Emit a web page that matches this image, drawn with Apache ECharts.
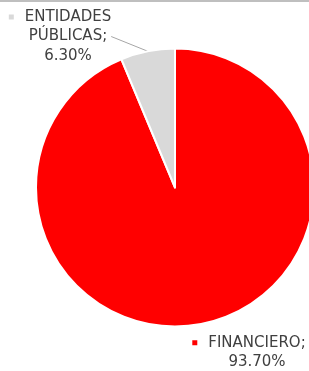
<!DOCTYPE html>
<html>
<head>
<meta charset="utf-8">
<script src="https://cdn.jsdelivr.net/npm/echarts@6/dist/echarts.min.js"></script>
<style>
  html, body { margin: 0; padding: 0; background: #fff; }
  #chart { width: 309px; height: 371px; }
</style>
</head>
<body>
<div id="chart"></div>
<script>
// sectores y su participación (%)
var sectorNames = ['FINANCIERO', 'ENTIDADES PÚBLICAS'];
var sectorLabels = ['FINANCIERO;', 'ENTIDADES\nPÚBLICAS;'];
var sectorValues = [93.70, 6.30];
var sectorColors = ['#ff0000', '#d9d9d9'];

var myChart = echarts.init(document.getElementById('chart'));

var pieData = sectorNames.map(function (name, i) {
    return {
        name: name,
        value: sectorValues[i],
        itemStyle: { color: sectorColors[i] },
        labelLine: { show: i === 1 }
    };
});

var option = {
    animation: false,
    graphic: [{
        type: 'rect',
        shape: { x: 0, y: 0, width: 309, height: 2 },
        style: { fill: '#bfbfbf' }
    }],
    series: [{
        type: 'pie',
        center: [175, 187.5],
        radius: [0, 139],
        startAngle: 90,
        clockwise: true,
        itemStyle: { borderColor: '#fff', borderWidth: 2 },
        data: pieData,
        label: {
            show: true,
            position: 'outside',
            overflow: 'none',
            color: '#404040',
            fontFamily: 'DejaVu Sans',
            fontSize: 15,
            lineHeight: 19.5,
            align: 'center',
            formatter: function (p) {
                var lines = sectorLabels[p.dataIndex].split('\n');
                lines.push(p.value.toFixed(2) + '%');
                var mk = p.dataIndex === 0 ? 'm0' : 'm1';
                return lines.map(function (l, k) {
                    return (k === 0 ? '{' + mk + '| }{g| }' : '{s| }') + '{t|' + l + '}';
                }).join('\n');
            },
            rich: {
                t: { color: '#404040', fontFamily: 'DejaVu Sans', fontSize: 15, lineHeight: 19.5 },
                m0: { backgroundColor: '#ff0000', width: 5, height: 5, fontSize: 1, lineHeight: 5, verticalAlign: 'middle' },
                m1: { backgroundColor: '#d9d9d9', width: 5, height: 5, fontSize: 1, lineHeight: 5, verticalAlign: 'middle' },
                g: { width: 11, fontSize: 1 },
                s: { width: 16, fontSize: 1 }
            }
        },
        labelLine: {
            show: true,
            length: 0,
            length2: 0,
            lineStyle: { color: '#a6a6a6', width: 1 }
        },
        labelLayout: function (params) {
            if (params.dataIndex === 0) {
                return { x: 249, y: 352.5, align: 'center', verticalAlign: 'middle' };
            }
            return { x: 60, y: 36.5, align: 'center', verticalAlign: 'middle' };
        }
    }]
};

myChart.setOption(option);
</script>
</body>
</html>
